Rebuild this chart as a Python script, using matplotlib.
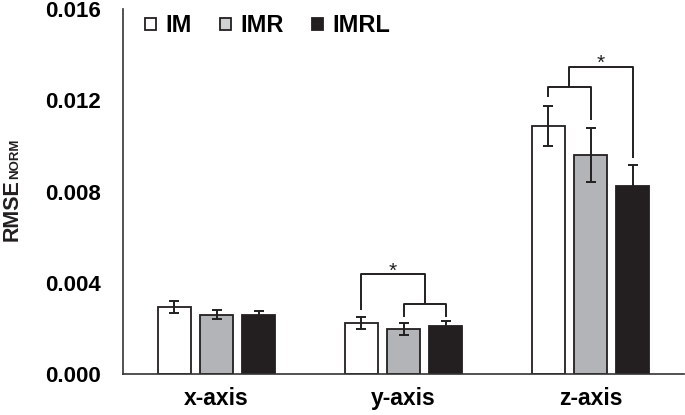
import matplotlib
matplotlib.use("Agg")
import matplotlib.pyplot as plt
from matplotlib.patches import Patch
import numpy as np

plt.rcParams['font.family'] = ['Liberation Sans', 'DejaVu Sans']
plt.rcParams['font.weight'] = 'bold'

categories = ["x-axis", "y-axis", "z-axis"]
series = ["IM", "IMR", "IMRL"]
im_vals = [0.00295, 0.00225, 0.01088]
imr_vals = [0.00259, 0.00197, 0.00960]
imrl_vals = [0.00259, 0.00212, 0.00822]
im_err = [0.00026, 0.00026, 0.00087]
imr_err = [0.00020, 0.00025, 0.00120]
imrl_err = [0.00018, 0.00020, 0.00095]
yticks = [0.000, 0.004, 0.008, 0.012, 0.016]
ytick_labels = ["0.000", "0.004", "0.008", "0.012", "0.016"]

fill_colors = ["#ffffff", "#b3b4b7", "#231f20"]
legend_colors = ["#ffffff", "#d0d1d3", "#231f20"]
edge = "#231f20"

W, H = 685, 415
fig = plt.figure(figsize=(W / 100, H / 100), dpi=100)
ax = fig.add_axes([123 / W, 41 / H, (684 - 123) / W, 365 / H])

x = np.arange(len(categories))
offsets = [-0.225, 0.0, 0.225]
width = 0.18
vals = [im_vals, imr_vals, imrl_vals]
errs = [im_err, imr_err, imrl_err]
for i in range(3):
    ax.bar(x + offsets[i], vals[i], width, yerr=errs[i], color=fill_colors[i],
           edgecolor=edge, linewidth=1.3, zorder=2,
           error_kw=dict(ecolor=edge, elinewidth=1.4, capsize=3.5, capthick=1.4, zorder=3))

ax.set_xlim(-0.5, 2.5)
ax.set_ylim(0, 0.016)
ax.set_yticks(yticks)
ax.set_yticklabels(ytick_labels)
ax.set_xticks(x)
ax.set_xticklabels(categories)
ax.tick_params(axis='y', length=0, pad=16, labelsize=16)
ax.tick_params(axis='x', length=0, pad=9, labelsize=16.5)
for s in ['top', 'right']:
    ax.spines[s].set_visible(False)
for s in ['left', 'bottom']:
    ax.spines[s].set_linewidth(1.2)
    ax.spines[s].set_color('#333333')

# significance brackets
lw = 1.4
def line(xs, ys):
    ax.plot(xs, ys, color=edge, lw=lw, solid_capstyle='butt', zorder=4)

def star(xc, y):
    ax.text(xc, y - 0.0001, "*", ha='center', va='baseline', fontsize=15,
            fontweight='normal', color=edge)

# y-axis group
g = 1
inner_y = 0.00306
leg_bot = 0.00251
line([g + offsets[1], g + offsets[1], g + offsets[2], g + offsets[2]],
     [leg_bot, inner_y, inner_y, leg_bot])
mid_inner = g + (offsets[1] + offsets[2]) / 2
outer_y = 0.00437
line([g + offsets[0], g + offsets[0], mid_inner, mid_inner],
     [0.00280, outer_y, outer_y, inner_y])
star((g + offsets[0] + mid_inner) / 2, outer_y)

# z-axis group
g = 2
inner_y = 0.01259
line([g + offsets[0], g + offsets[0], g + offsets[1], g + offsets[1]],
     [0.01214, inner_y, inner_y, 0.01113])
mid_inner = g + (offsets[0] + offsets[1]) / 2
outer_y = 0.01347
line([mid_inner, mid_inner, g + offsets[2], g + offsets[2]],
     [inner_y, outer_y, outer_y, 0.00947])
star((mid_inner + g + offsets[2]) / 2, outer_y)

handles = [Patch(facecolor=c, edgecolor=edge, linewidth=1.3) for c in legend_colors]
ax.legend(handles, series, loc='upper left', bbox_to_anchor=(0.04, 0.985), ncol=3,
          frameon=False, prop=dict(weight='bold', size=17), handlelength=0.45,
          handleheight=0.45, handletextpad=0.4, columnspacing=1.2,
          borderaxespad=0, borderpad=0)

# y label: RMSE with NORM subscript on the same baseline
t1 = fig.text(18 / W, (H - 241) / H, "RMSE", rotation=90, rotation_mode='anchor',
              ha='left', va='baseline', fontsize=15.5, fontweight='bold', color=edge)
fig.canvas.draw()
bb = t1.get_window_extent()
fig.text(18 / W, bb.y1 / H, "NORM", rotation=90, rotation_mode='anchor',
         ha='left', va='baseline', fontsize=9.5, fontweight='bold', color=edge)

fig.savefig("out.png", dpi=100)
